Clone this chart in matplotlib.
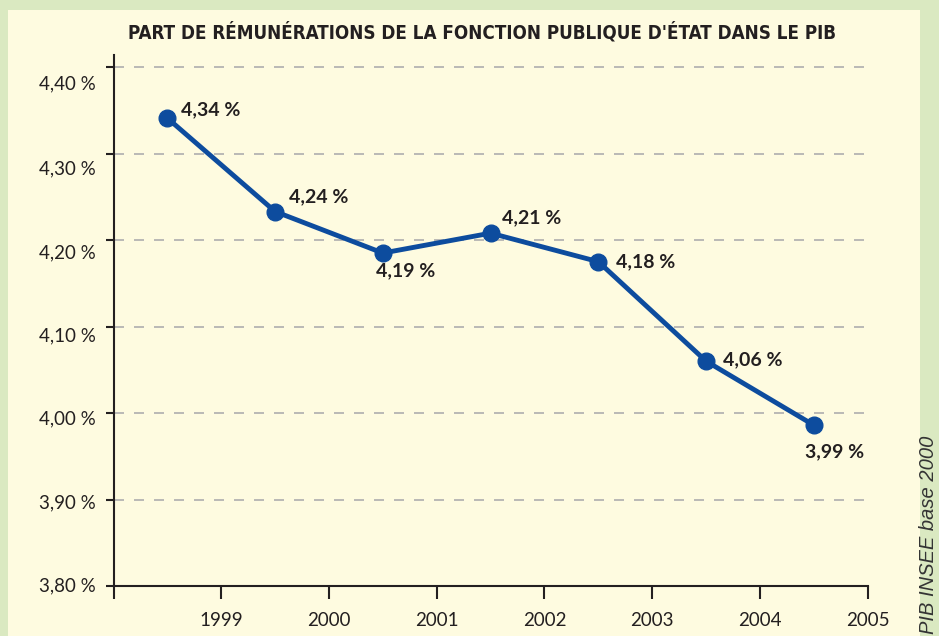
import matplotlib
matplotlib.use("Agg")
import matplotlib.pyplot as plt
from matplotlib.patches import Rectangle

# ---- data ----
years = ["1999", "2000", "2001", "2002", "2003", "2004", "2005"]
values = [4.341, 4.233, 4.185, 4.208, 4.175, 4.060, 3.986]
labels = ["4,34 %", "4,24 %", "4,19 %", "4,21 %", "4,18 %", "4,06 %", "3,99 %"]
ytick_vals = [3.80, 3.90, 4.00, 4.10, 4.20, 4.30, 4.40]
ytick_labels = ["3,80 %", "3,90 %", "4,00 %", "4,10 %", "4,20 %", "4,30 %", "4,40 %"]
title = "PART DE RÉMUNÉRATIONS DE LA FONCTION PUBLIQUE D'ÉTAT DANS LE PIB"
source = "PIB INSEE base 2000"

# style: label offsets (points) and y-tick label downward shifts (pixels)
offsets = [(10, 6), (10, 11), (-5, -13), (8, 11), (13, 0), (12, 1), (-6, -19)]
ylabel_shift_px = [0, 3, 6, 9, 13, 15, 17]

GREEN = "#DAE9C1"
CREAM = "#FEFBE0"
BLUE = "#0D4C9E"
DARK = "#231F20"

plt.rcParams['font.family'] = ['Lato', 'DejaVu Sans']

W, H = 939, 636
fig = plt.figure(figsize=(W / 100, H / 100), dpi=100)
fig.patch.set_facecolor(GREEN)
fig.patches.append(Rectangle((8 / W, 0), (920 - 8) / W, (H - 10) / H,
                             transform=fig.transFigure, facecolor=CREAM,
                             edgecolor="none", zorder=-5))

ax = fig.add_axes([113.5 / W, 50 / H, (867.7 - 113.5) / W, (586 - 55) / H])
ax.set_zorder(2)
ax.set_facecolor("none")

xs = [i + 0.5 for i in range(len(values))]
ax.plot(xs, values, color=BLUE, lw=3.5, marker="o", markersize=12,
        solid_capstyle="round", zorder=3, clip_on=False)

for x, v, lab, off in zip(xs, values, labels, offsets):
    ax.annotate(lab, (x, v), xytext=off, textcoords="offset points",
                ha="left", va="center", fontsize=14, fontweight="bold", color=DARK)

ax.set_xlim(0, 7)
ax.set_ylim(3.80, 4.414)
ax.set_yticks(ytick_vals)
ax.set_yticklabels([""] * len(ytick_vals))
ax.set_xticks(range(0, 8))
ax.set_xticklabels([""] + years, fontsize=13.5, color=DARK)

for v, lab, sh in zip(ytick_vals, ytick_labels, ylabel_shift_px):
    ax.annotate(lab, (0, v), xycoords=("axes fraction", "data"),
                xytext=(-12.5, -sh * 0.72), textcoords="offset points",
                ha="right", va="center", fontsize=13.5, color=DARK,
                annotation_clip=False)

for v in ytick_vals[1:]:
    ax.axhline(v, color="#AEAEAE", lw=1.2, dashes=(6, 6), zorder=1)

for s in ["top", "right"]:
    ax.spines[s].set_visible(False)
for s in ["left", "bottom"]:
    ax.spines[s].set_color(DARK)
    ax.spines[s].set_linewidth(1.5)
ax.tick_params(axis="y", length=6, width=1.5, color=DARK, pad=7)
ax.tick_params(axis="x", length=9, width=1.5, color=DARK, pad=9.5)

fig.text(482.5 / W, 1 - 32 / H, title, ha="center", va="center",
         fontsize=13.5, fontweight="bold", color=DARK,
         family=["DejaVu Sans"], fontstretch="condensed")

fig.text(929 / W, 2 / H, source, rotation=90, ha="center", va="bottom",
         fontsize=14.5, style="italic", color="#333333",
         family=["Liberation Sans", "DejaVu Sans"])

fig.savefig("out.png", dpi=100, facecolor=GREEN)
